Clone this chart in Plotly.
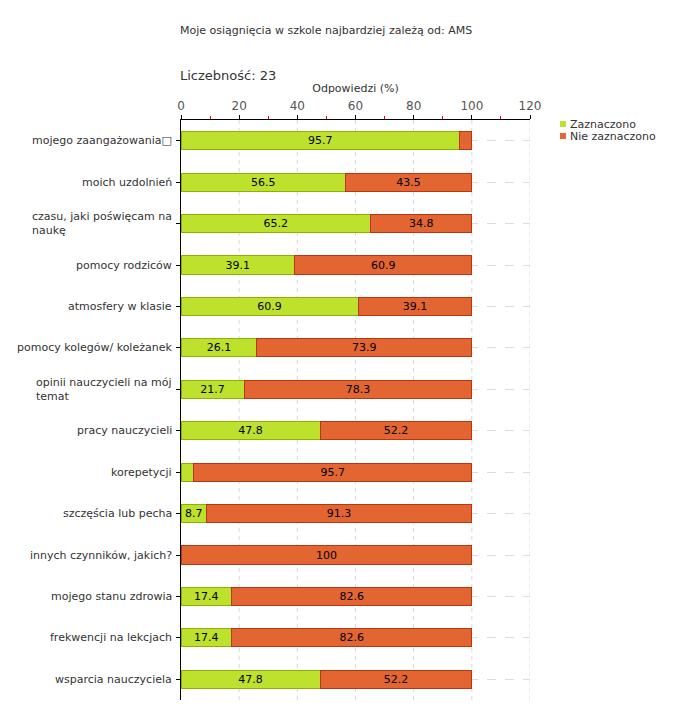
import plotly.graph_objects as go

categories = [
    "mojego zaangażowania\u25a1",
    "moich uzdolnień",
    "czasu, jaki poświęcam na<br>naukę",
    "pomocy rodziców",
    "atmosfery w klasie",
    "pomocy kolegów/ koleżanek",
    "opinii nauczycieli na mój<br>temat",
    "pracy nauczycieli",
    "korepetycji",
    "szczęścia lub pecha",
    "innych czynników, jakich?",
    "mojego stanu zdrowia",
    "frekwencji na lekcjach",
    "wsparcia nauczyciela",
]
zaznaczono = [95.7, 56.5, 65.2, 39.1, 60.9, 26.1, 21.7, 47.8, 4.3, 8.7, 0, 17.4, 17.4, 47.8]
nie_zaznaczono = [4.3, 43.5, 34.8, 60.9, 39.1, 73.9, 78.3, 52.2, 95.7, 91.3, 100, 82.6, 82.6, 52.2]
series_names = ["Zaznaczono", "Nie zaznaczono"]

title_text = "Moje osiągnięcia w szkole najbardziej zależą od: AMS"
count_text = "Liczebność: 23"
axis_title = "Odpowiedzi (%)"

FONT = "DejaVu Sans"
GREEN = "rgb(190,225,46)"
GREEN_LINE = "rgb(140,178,0)"
ORANGE = "rgb(226,101,50)"
ORANGE_LINE = "rgb(185,55,15)"
GRID = "#d8d8d8"

X_MAX, X_STEP = 120, 20

# page body adds an 8px margin, so the figure is sized to fill the rest
W, H = 672, 712
L, T, R, B = 173, 112, 150, 20
PW, PH = W - L - R, H - T - B


def labels(vals):
    return [("%g" % v) if v >= 5 else "" for v in vals]


fig = go.Figure()
for vals, name, col, lcol in [
    (zaznaczono, series_names[0], GREEN, GREEN_LINE),
    (nie_zaznaczono, series_names[1], ORANGE, ORANGE_LINE),
]:
    fig.add_trace(go.Bar(
        y=categories, x=vals, orientation="h", name=name, showlegend=False,
        marker=dict(color=col, line=dict(color=lcol, width=1)),
        text=labels(vals), textposition="inside", insidetextanchor="middle",
        textfont=dict(family=FONT, size=11, color="black"), constraintext="none",
        hoverinfo="x+y",
    ))
# invisible trace to activate the secondary (minor tick) axis
fig.add_trace(go.Scatter(x=[None], y=[None], xaxis="x2", yaxis="y",
                         showlegend=False, hoverinfo="skip"))

annotations = [
    dict(text=title_text, xref="paper", yref="paper", x=0, y=1, xanchor="left",
         yanchor="middle", yshift=90, xshift=-3, showarrow=False,
         font=dict(family=FONT, size=11, color="#333")),
    dict(text=count_text, xref="paper", yref="paper", x=0, y=1, xanchor="left",
         yanchor="middle", yshift=45, xshift=-3, showarrow=False,
         font=dict(family=FONT, size=13, color="#333")),
]
for c in categories:
    annotations.append(dict(
        text=c, xref="paper", yref="y", x=0, y=c, xanchor="right", yanchor="middle",
        align="left", xshift=-7, showarrow=False,
        font=dict(family=FONT, size=11, color="#333"),
    ))

shapes = []
# vertical dashed gridlines at the major ticks
for v in range(X_STEP, X_MAX + 1, X_STEP):
    shapes.append(dict(type="line", xref="x", yref="paper", x0=v, x1=v, y0=0, y1=1,
                       layer="below", line=dict(color=GRID, width=1, dash="4px,4px")))

# custom legend: small squares + labels
leg_x = (555 - L) / PW
for i, (name, col) in enumerate([(series_names[0], GREEN), (series_names[1], ORANGE)]):
    yc = (H - B - (116 + 12 * i)) / PH
    shapes.append(dict(type="rect", xref="paper", yref="paper",
                       xsizemode="pixel", ysizemode="pixel",
                       xanchor=leg_x, yanchor=yc, x0=-3, x1=3, y0=-3, y1=3,
                       fillcolor=col, line=dict(width=0)))
    annotations.append(dict(text=name, xref="paper", yref="paper", x=leg_x, y=yc,
                            xanchor="left", yanchor="middle", xshift=5, showarrow=False,
                            font=dict(family=FONT, size=11, color="#333")))

fig.update_layout(
    width=W, height=H,
    barmode="stack", bargap=0.56,
    plot_bgcolor="white", paper_bgcolor="white",
    margin=dict(l=L, r=R, t=T, b=B, autoexpand=False),
    font=dict(family=FONT, size=11, color="#333"),
    showlegend=False,
    annotations=annotations,
    shapes=shapes,
    xaxis=dict(
        side="top", range=[0, X_MAX], dtick=X_STEP, tick0=0,
        showline=True, linecolor="black", linewidth=1,
        ticks="outside", ticklen=4, tickcolor="black",
        tickfont=dict(family=FONT, size=12, color="#555"),
        showgrid=False,
        zeroline=False, automargin=False,
        title=dict(text=axis_title, font=dict(family=FONT, size=11, color="#333"), standoff=4),
    ),
    xaxis2=dict(
        overlaying="x", side="top", range=[0, X_MAX], tick0=X_STEP / 2, dtick=X_STEP,
        ticks="outside", ticklen=3, tickcolor="red", showticklabels=False,
        showgrid=False, zeroline=False, showline=False, automargin=False,
    ),
    yaxis=dict(
        autorange="reversed", showline=True, linecolor="black", linewidth=1,
        ticks="outside", ticklen=4, tickcolor="black", showticklabels=False,
        showgrid=True, gridcolor="#dcdcdc", griddash="dash", zeroline=False,
        automargin=False,
    ),
)

fig.write_html("out.html")
